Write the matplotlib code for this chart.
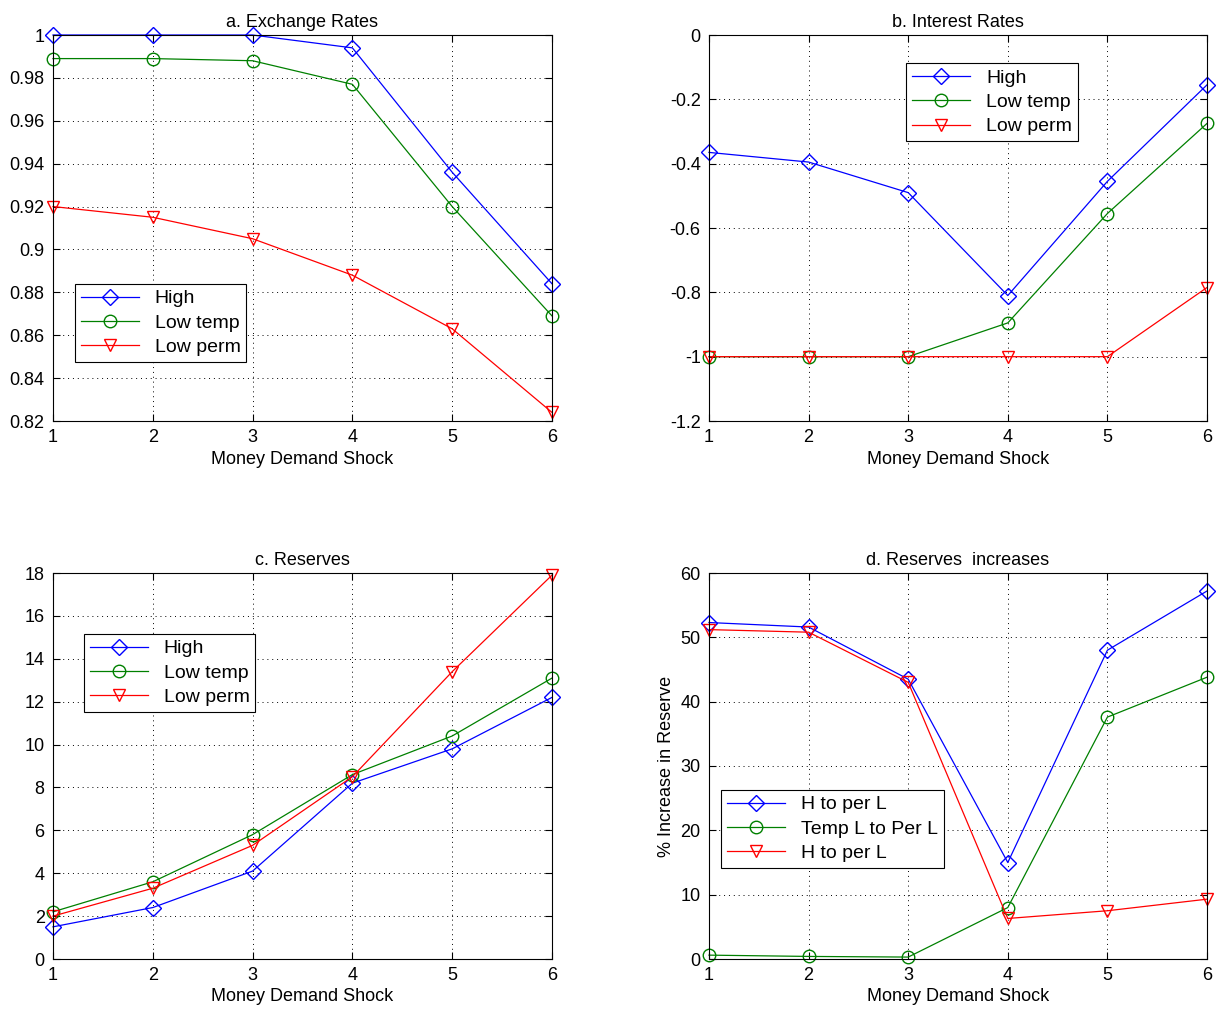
import matplotlib
matplotlib.use('Agg')
import matplotlib.pyplot as plt
import numpy as np

plt.rcParams['font.family'] = ['Liberation Sans', 'DejaVu Sans']
plt.rcParams['font.size'] = 13

shocks = np.array([1, 2, 3, 4, 5, 6])

# a. Exchange Rates
ex_high = [1.0, 1.0, 1.0, 0.994, 0.936, 0.884]
ex_temp = [0.989, 0.989, 0.988, 0.977, 0.920, 0.869]
ex_perm = [0.920, 0.915, 0.905, 0.888, 0.863, 0.824]

# b. Interest Rates
ir_high = [-0.365, -0.395, -0.49, -0.81, -0.455, -0.155]
ir_temp = [-1.0, -1.0, -1.0, -0.895, -0.555, -0.275]
ir_perm = [-1.0, -1.0, -1.0, -1.0, -1.0, -0.785]

# c. Reserves
rs_high = [1.5, 2.4, 4.1, 8.2, 9.8, 12.2]
rs_temp = [2.2, 3.6, 5.8, 8.6, 10.4, 13.1]
rs_perm = [2.0, 3.3, 5.3, 8.5, 13.4, 17.9]

# d. Reserves increases
inc_h = [52.3, 51.6, 43.5, 15.0, 48.0, 57.2]
inc_temp = [0.6, 0.4, 0.3, 8.0, 37.6, 43.8]
inc_h2 = [51.2, 50.8, 43.0, 6.3, 7.5, 9.3]

fig = plt.figure(figsize=(12.25, 10.14), dpi=100)
W, H = 1225, 1014

def make_ax(l, r, t, b):
    return fig.add_axes([l / W, 1 - b / H, (r - l) / W, (b - t) / H])

def draw(ax, series, labels, title, ylim, yticks, ytl, leg_xy, ylabel=None):
    styles = [('D', '#0000ff', 8), ('o', '#008000', 9), ('v', '#ff0000', 9)]
    for y, lab, (m, c, ms) in zip(series, labels, styles):
        ax.plot(shocks, y, color=c, marker=m, markerfacecolor='none',
                markersize=ms, linewidth=0.9, label=lab, clip_on=False)
    ax.set_xlim(1, 6)
    ax.set_ylim(*ylim)
    ax.set_xticks(shocks)
    ax.set_yticks(yticks)
    ax.set_yticklabels(ytl)
    ax.grid(True, linestyle=(0, (1, 4)), color='black', linewidth=0.7)
    ax.tick_params(direction='in', top=True, right=True, length=5, pad=6)
    ax.set_title(title, fontsize=13, pad=6)
    ax.set_xlabel('Money Demand Shock', fontsize=13, labelpad=3)
    if ylabel:
        ax.set_ylabel(ylabel, fontsize=13)
    leg = ax.legend(loc='upper left', bbox_to_anchor=leg_xy, fancybox=False,
                    edgecolor='black', framealpha=1, fontsize=14,
                    handlelength=3, borderpad=0.3, labelspacing=0.35,
                    borderaxespad=0)
    leg.get_frame().set_linewidth(0.8)

ax1 = make_ax(53, 552, 35, 421)
draw(ax1, [ex_high, ex_temp, ex_perm], ['High', 'Low temp', 'Low perm'],
     'a. Exchange Rates', (0.82, 1.0), np.arange(0.82, 1.001, 0.02),
     ['0.82', '0.84', '0.86', '0.88', '0.9', '0.92', '0.94', '0.96', '0.98', '1'],
     (0.044, 0.355))

ax2 = make_ax(709, 1207, 35, 421)
draw(ax2, [ir_high, ir_temp, ir_perm], ['High', 'Low temp', 'Low perm'],
     'b. Interest Rates', (-1.2, 0), np.arange(-1.2, 0.01, 0.2),
     ['-1.2', '-1', '-0.8', '-0.6', '-0.4', '-0.2', '0'],
     (0.396, 0.927))

ax3 = make_ax(53, 552, 573, 959)
draw(ax3, [rs_high, rs_temp, rs_perm], ['High', 'Low temp', 'Low perm'],
     'c. Reserves', (0, 18), np.arange(0, 19, 2),
     [str(v) for v in range(0, 19, 2)],
     (0.062, 0.842))

ax4 = make_ax(709, 1207, 573, 959)
draw(ax4, [inc_h, inc_temp, inc_h2], ['H to per L', 'Temp L to Per L', 'H to per L'],
     'd. Reserves  increases', (0, 60), np.arange(0, 61, 10),
     [str(v) for v in range(0, 61, 10)],
     (0.024, 0.438), ylabel='% Increase in Reserve')

fig.savefig('out.png', dpi=100)
